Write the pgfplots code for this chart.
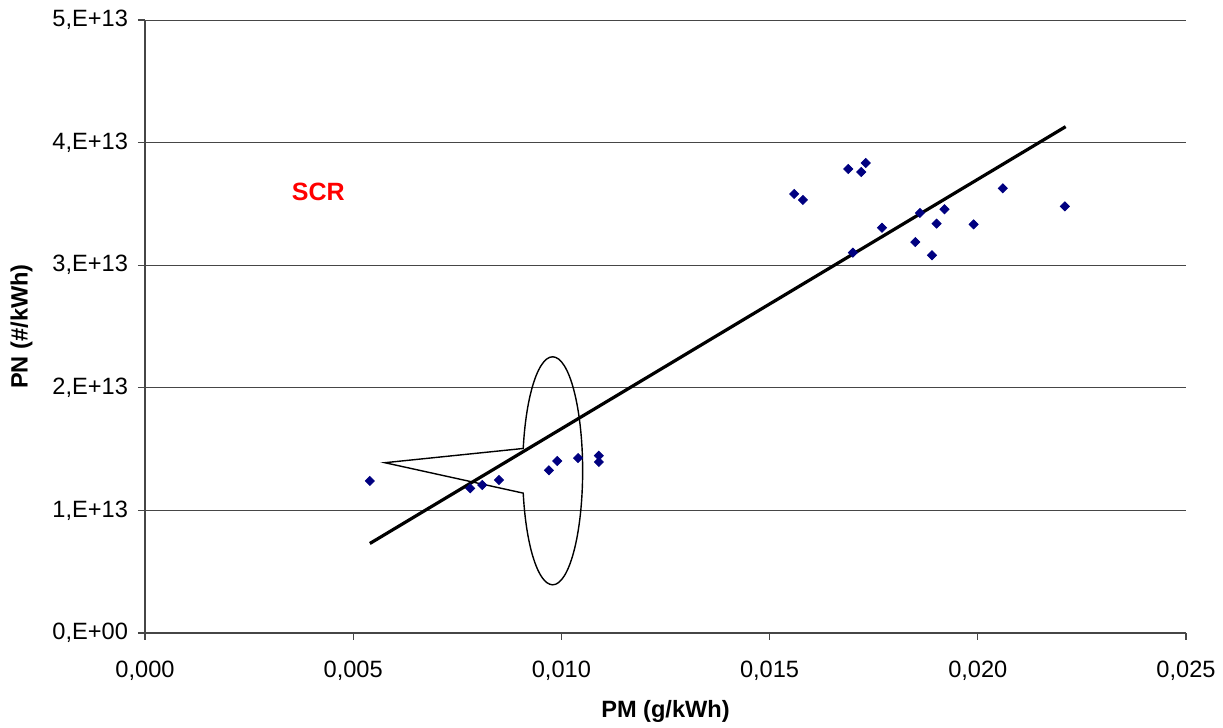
\documentclass[border=0pt]{standalone}
\usepackage{fontspec}
\setmainfont{Liberation Sans}
\usepackage{pgfplots}
\pgfplotsset{compat=1.18}
\usetikzlibrary{calc}
\definecolor{navyblue}{RGB}{0,0,128}
\definecolor{gridgray}{RGB}{70,70,70}

% PM (g/kWh) vs PN (#/kWh), SCR
\pgfplotstableread{
pm      pn
0.00540 1.24e13
0.00781 1.18e13
0.00810 1.207e13
0.00850 1.248e13
0.00970 1.327e13
0.00990 1.403e13
0.01040 1.427e13
0.01090 1.446e13
0.01090 1.395e13
0.01559 3.581e13
0.01580 3.532e13
0.01689 3.785e13
0.01720 3.760e13
0.01731 3.834e13
0.01700 3.102e13
0.01770 3.306e13
0.01850 3.189e13
0.01861 3.426e13
0.01890 3.081e13
0.01901 3.339e13
0.01920 3.456e13
0.01990 3.333e13
0.02060 3.627e13
0.02209 3.480e13
}\scrdata

\begin{document}
\begin{tikzpicture}
  \begin{axis}[
    at={(0,0)}, anchor=south west,
    scale only axis,
    width=520.5pt, height=306.5pt,
    xmin=0, xmax=0.025,
    ymin=0, ymax=5e13,
    axis x line*=bottom, axis y line*=left,
    axis line style={-, gridgray, line width=0.6pt},
    xtick={0,0.005,0.010,0.015,0.020,0.025},
    xticklabels={{0,000},{0,005},{0,010},{0,015},{0,020},{0,025}},
    ytick={0,1e13,2e13,3e13,4e13,5e13},
    yticklabels={{0,E+00},{1,E+13},{2,E+13},{3,E+13},{4,E+13},{5,E+13}},
    scaled ticks=false,
    tick align=outside,
    major tick length=3.5pt,
    tick style={gridgray, line width=0.6pt},
    ymajorgrids,
    grid style={gridgray, line width=0.5pt},
    tick label style={font=\fontsize{11.8}{14}\selectfont},
    xticklabel shift=7pt,
    yticklabel shift=1.5pt,
    label style={font=\bfseries\fontsize{11.8}{14}\selectfont},
    xlabel={PM (g/kWh)},
    ylabel={PN (\#/kWh)},
    xlabel style={at={(axis description cs:0.5,0)}, anchor=center, yshift=-39.4pt},
    ylabel style={at={(axis description cs:0,0.5)}, anchor=center, yshift=61.7pt},
    clip=false,
  ]
    \addplot[only marks, mark=square*, mark size=1.6pt,
      mark options={rotate=45, fill=navyblue, draw=navyblue}]
      table[x=pm, y=pn] {\scrdata};
    % linear trend line
    \addplot[black, line width=1.6pt] coordinates {(0.0054,0.73e13) (0.02211,4.13e13)};
    % oval callout
    \draw[black, line width=0.7pt]
      ($(axis cs:0.00979,1.323e13)+(168.7:15pt and 57pt)$)
      arc[start angle=168.7, end angle=-168.7, x radius=15pt, y radius=57pt]
      -- (axis cs:0.00576,1.389e13) -- cycle;
    \node[text=red, font=\bfseries\fontsize{12.5}{15}\selectfont]
      at (axis cs:0.00416,3.595e13) {SCR};
  \end{axis}
  \pgfresetboundingbox
  \path[use as bounding box] (-72.5pt,-47.5pt) rectangle (539pt,316.5pt);
\end{tikzpicture}
\end{document}
